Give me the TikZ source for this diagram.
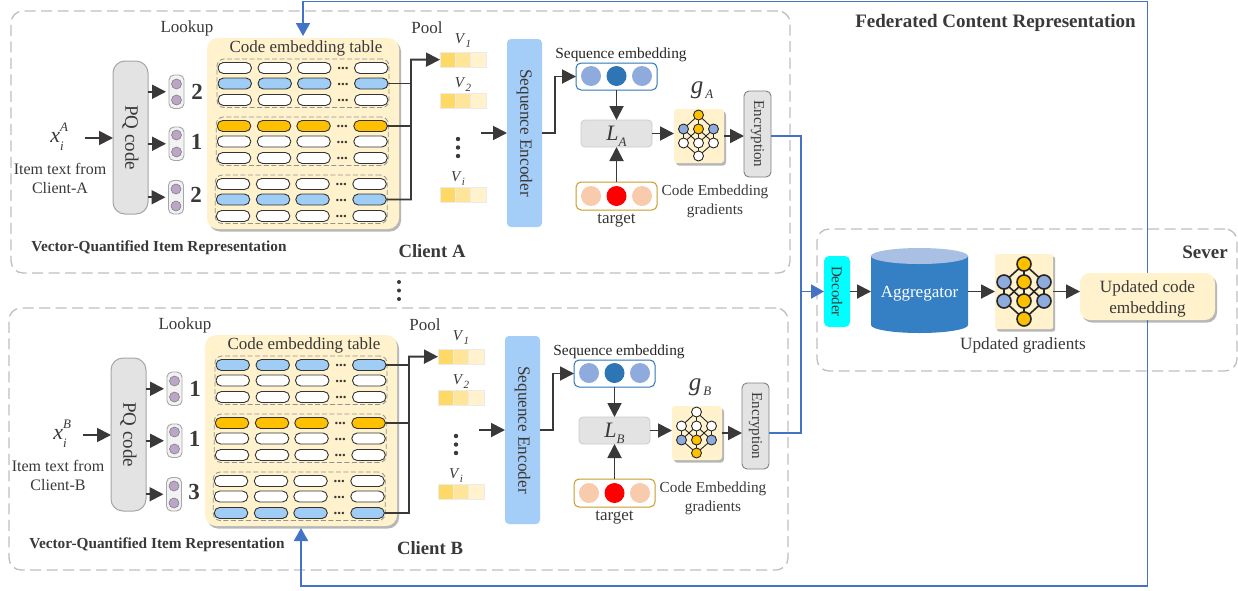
\documentclass[tikz,border=0pt]{standalone}
\usepackage{fontspec}
\setmainfont{Liberation Serif}
\usetikzlibrary{arrows.meta,shadows,calc}
\definecolor{txtc}{HTML}{3B3838}
\definecolor{linec}{HTML}{3B3838}
\definecolor{dashc}{HTML}{BFBFBF}
\definecolor{greyf}{HTML}{E3E3E3}
\definecolor{greyl}{HTML}{A6A6A6}
\definecolor{cream}{HTML}{FFF2CC}
\definecolor{pillblue}{HTML}{9FCDF5}
\definecolor{pillorange}{HTML}{FFC000}
\definecolor{seqblue}{HTML}{A4CEF7}
\definecolor{bluel}{HTML}{4472C4}
\definecolor{nnb}{HTML}{8FAADC}
\definecolor{nno}{HTML}{FFC000}
\definecolor{deepb}{HTML}{2E75B6}
\definecolor{cylb}{HTML}{3580C5}
\definecolor{cylt}{HTML}{A9BFE3}
\definecolor{peach}{HTML}{F8CBAD}
\definecolor{goldl}{HTML}{C89B2A}
\definecolor{lilac}{HTML}{BBA6C8}
\definecolor{vone}{HTML}{FFD966}
\definecolor{vtwo}{HTML}{FFE599}
\definecolor{cyanf}{HTML}{00FFFF}
\newcommand\fs[1]{\fontsize{#1}{#1}\selectfont}
\newcommand\fsl[2]{\fontsize{#1}{#2}\selectfont}
\newcommand\isub[3]{\textit{#1}\raisebox{-.28em}{\fs{#3}\textit{#2}}}
\newcommand\subsup[3]{\textit{#1}\rlap{\raisebox{.5em}{\fs{13}\textit{#3}}}\raisebox{-.35em}{\fs{13}\textit{#2}}\hspace{4pt}}
\tikzset{
  boxbase/.style={inner sep=0pt,outer sep=0pt,rectangle,align=center},
  region/.style={draw=dashc,line width=1.3pt,dash pattern=on 11pt off 5.5pt,rounded corners=12pt},
  groupbox/.style={draw=gray!85,line width=.8pt,dash pattern=on 5pt off 2.5pt,rounded corners=7pt},
  softshadow/.style={drop shadow={shadow xshift=2pt,shadow yshift=-2.5pt,opacity=.4,fill=black!70}},
  flow/.style={draw=linec,line width=1.9pt,-{Triangle[length=14pt,width=14pt]}},
  plain/.style={draw=linec,line width=1.6pt},
  blueline/.style={draw=bluel,line width=1.9pt},
  bluearrow/.style={blueline,-{Triangle[length=13pt,width=14pt]}},
  pill/.style={draw=black!80,line width=.9pt,rounded corners=5.4pt},
  dot/.style={circle,inner sep=0pt,outer sep=0pt,minimum size=20pt},
  tiny/.style={circle,inner sep=0pt,outer sep=0pt,minimum size=10pt,draw=gray,line width=.6pt,fill=lilac},
}
\newcommand\bx[7]{%
  \pgfmathsetmacro\cxv{((#3)+(#5))/2}\pgfmathsetmacro\cyv{((#4)+(#6))/2}%
  \pgfmathsetmacro\wv{(#5)-(#3)}\pgfmathsetmacro\hv{(#6)-(#4)}%
  \node[boxbase,#2,minimum width=\wv pt,minimum height=\hv pt] (#1) at (\cxv,\cyv) {#7};}
% neural net: prefix cx dx y1 y2 y3 y4 style colours
\newcommand\nnetdraw[6]{%
  \node[nncur,fill=#1] (\nnp-n1) at (\nncx,\nnya) {};
  \node[nncur,fill=#2] (\nnp-n2) at ({\nncx-\nndx},\nnyb) {};
  \node[nncur,fill=#3] (\nnp-n3) at (\nncx,\nnyb) {};
  \node[nncur,fill=#2] (\nnp-n4) at ({\nncx+\nndx},\nnyb) {};
  \node[nncur,fill=#4] (\nnp-n5) at ({\nncx-\nndx},\nnyc) {};
  \node[nncur,fill=#5] (\nnp-n6) at (\nncx,\nnyc) {};
  \node[nncur,fill=#4] (\nnp-n7) at ({\nncx+\nndx},\nnyc) {};
  \node[nncur,fill=#6] (\nnp-n8) at (\nncx,\nnyd) {};
  \foreach \ea/\eb in {1/2,1/3,1/4,2/5,2/6,3/5,3/6,3/7,4/6,4/7,5/8,6/8,7/8}
    \draw[nnedge] (\nnp-n\ea) -- (\nnp-n\eb);}
\newcommand\nnet[9]{%
  \def\nnp{#1}\def\nncx{#2}\def\nndx{#3}\def\nnya{#4}\def\nnyb{#5}\def\nnyc{#6}\def\nnyd{#7}%
  \tikzset{nncur/.style={circle,inner sep=0pt,outer sep=0pt,draw=black!85,#8},nnedge/.style={draw=black!85,#8}}%
  \nnetdraw#9}
% vector cells
\newcommand\vcells[2]{%
  \bx{#1a}{fill=vone,draw=black!8}{440}{#2}{455.3}{#2+15.3}{}
  \bx{#1b}{fill=vtwo,draw=black!8}{455.3}{#2}{470.6}{#2+15.3}{}
  \bx{#1c}{fill=cream,draw=black!8}{470.6}{#2}{486}{#2+15.3}{}}
% client: prefix letter dx dy rowa rowc xix encdy colours
\newcommand\clientblock[9]{%
\begin{scope}[shift={(#3,#4)}]
  \bx{#1-box}{region}{11}{11}{790}{273}{}
  \node (#1-lk) at (187,28) {\fs{17}Lookup};
  \node (#1-pl) at (427,28) {\fs{17}Pool};
  \bx{#1-tbl}{fill=cream,rounded corners=11pt,softshadow}{207}{38}{399}{229}{}
  \node (#1-tt) at (306,48.5) {\fs{17}Code embedding table};
  \foreach \g/\gx/\gy/\act/\cc in {1/0/68/#5/pillblue,2/-0.7/126/1/pillorange,3/-1.7/184/#6/pillblue}{
    \bx{#1-gb\g}{groupbox}{217+\gx}{\gy-9}{389+\gx}{\gy+39.5}{}
    \foreach \r/\ry in {1/0,2/15.5,3/32}{
      \ifnum\r=\act\relax\def\pf{\cc}\else\def\pf{white}\fi
      \foreach \c/\xa/\xb in {1/218/251.5,2/258/291.5,3/297.5/331,4/354.5/388}{
        \bx{#1-p\g\r\c}{pill,fill=\pf}{\xa+\gx}{\gy+\ry-5.5}{\xb+\gx}{\gy+\ry+5.5}{}
      }
      \node[inner sep=0pt] (#1-d\g\r) at ({343+\gx},{\gy+\ry+.5}) {\bfseries\fs{15}...};
    }
  }
  \bx{#1-pq}{fill=greyf,draw=greyl,line width=1pt,rounded corners=12pt,label={[rotate=-90]center:\fs{19}PQ code}}{113}{61}{148}{214}{}
  \foreach \s/\ya/\yb/\ca/\cb/\n/\nx/\ny/\sx in {1/75/108.5/84/100/#5/197/92/0,2/127/160.5/135/152/1/196.5/142/0,3/180.5/214/189/206/#6/196/195/-.5}{
    \bx{#1-sp\s}{draw=greyl,fill=black!5,line width=.9pt,rounded corners=5pt}{169+\sx}{\ya}{184+\sx}{\yb}{}
    \node[tiny] (#1-sa\s) at (176.5+\sx,\ca) {};
    \node[tiny] (#1-sb\s) at (176.5+\sx,\cb) {};
    \node[inner sep=0pt] (#1-num\s) at (\nx,\ny) {\bfseries\fs{23}\n};
    \draw[flow,shorten >=3pt] (#1-pq.east |- #1-sp\s.west) -- (#1-sp\s.west);
  }
  \node (#1-xi) at (#7,137) {\fs{22}\subsup{x}{i}{#2}};
  \coordinate (#1-xs) at (85,138);
  \draw[flow] (#1-xs) -- (#1-pq.west |- #1-xs);
  \node[align=center,inner sep=0pt,font=\fsl{16}{19}] (#1-it) at (60,178.5) {Item text from\\Client-#2};
  \node (#1-vq) at (159,248) {\bfseries\fs{15.3}Vector-Quantified Item Representation};
  \node (#1-cl) at (432,251) {\bfseries\fs{18.7}Client #2};
  \vcells{#1-va}{52}
  \vcells{#1-vb}{93}
  \vcells{#1-vc}{187}
  \node[inner sep=0pt] (#1-la1) at (463,40.5) {\fs{15}\isub{V}{1}{11}};
  \node[inner sep=0pt] (#1-la2) at (463,84.5) {\fs{15}\isub{V}{2}{11}};
  \node[inner sep=0pt] (#1-la3) at (458,178.5) {\fs{15}\isub{V}{i}{11}};
  \foreach \i/\yy in {1/139,2/147.5,3/156}
    \node[circle,fill=linec,inner sep=0pt,minimum size=4.4pt] (#1-vd\i) at (458,\yy) {};
  \coordinate (#1-bus) at (411,59.6);
  \draw[plain] (#1-p1#54.east) -- (#1-p1#54.east -| #1-bus);
  \draw[plain] (#1-p214.east) -- (#1-p214.east -| #1-bus);
  \draw[flow] (#1-p3#64.east) -| (#1-bus) -- (#1-vaa.west);
  \bx{#1-sq}{fill=seqblue,rounded corners=4pt,label={[rotate=-90]center:\fs{17.2}Sequence Encoder}}{507}{39}{542}{227}{}
  \coordinate (#1-sin) at (481,133);
  \draw[flow] (#1-sin) -- (#1-sq.west |- #1-sin);
  \node (#1-st) at (621,54.5) {\textcolor{black!85}{\fs{15.4}Sequence embedding}};
  \bx{#1-se}{draw=deepb,fill=white,line width=1pt,rounded corners=5pt}{576}{63}{657}{90}{}
  \node[dot,fill=nnb] (#1-e1) at (591,76) {};
  \node[dot,fill=deepb] (#1-e2) at (616.5,76) {};
  \node[dot,fill=nnb] (#1-e3) at (642,76) {};
  \coordinate (#1-elb) at (555,100);
  \draw[flow] (#1-sq.east) -| (#1-elb) |- (#1-se.west);
  \bx{#1-la}{fill=greyf,draw=black!20,line width=.8pt,rounded corners=4pt}{581}{120}{652}{147}{}
  \node[inner sep=0pt] (#1-lt) at (616.5,136) {\fs{22}\isub{L}{#2}{13}};
  \bx{#1-tg}{draw=goldl,fill=white,line width=1pt,rounded corners=5pt}{576}{182}{657}{210}{}
  \node[dot,fill=peach] (#1-t1) at (591,196) {};
  \node[dot,fill=red] (#1-t2) at (616.5,196) {};
  \node[dot,fill=peach] (#1-t3) at (642,196) {};
  \node (#1-tl) at (616.5,220.5) {\fs{17}target};
  \draw[flow] (#1-se.south) -- (#1-la.north);
  \draw[flow] (#1-tg.north) -- (#1-la.south);
  \bx{#1-nn}{fill=cream,rounded corners=3pt,softshadow}{674}{109}{724}{163}{}
  \nnet{#1}{698.5}{15}{115}{129}{143}{156}{minimum size=10pt,line width=.9pt}{#9}
  \node (#1-g) at (702,90) {\fs{25}\textit{g}\raisebox{-.2em}{\hspace{2pt}\fs{13}\textit{#2}}};
  \draw[flow] (#1-la.east) -- (#1-la.east -| #1-nn.west);
  \bx{#1-enc}{fill=greyf,draw=black!50,line width=.9pt,rounded corners=5pt,label={[rotate=-90]center:\fs{15}Encryption}}{744}{91+#8}{771}{177+#8}{}
  \draw[flow] (#1-nn.east) -- (#1-nn.east -| #1-enc.west);
  \node[align=center,inner sep=0pt,font=\fsl{15.3}{19}] (#1-ce) at (715,201.5) {Code Embedding\\gradients};
\end{scope}}

\begin{document}
\begin{tikzpicture}[x=1pt,y=-1pt,every node/.append style={text=txtc}]
\useasboundingbox (0,0) rectangle (1238,590);
\fill[white] (0,0) rectangle (1238,590);
% server
\bx{srv}{region}{817}{229}{1237}{371}{}
\clientblock{A}{A}{0}{0}{2}{2}{57}{0}{{nno}{nnb}{nno}{white}{white}{white}}
\clientblock{B}{B}{-2}{297}{1}{3}{62}{-5}{{white}{white}{white}{nnb}{nno}{nno}}
\foreach \i/\yy in {1/282,2/290.5,3/299}
  \node[circle,fill=linec,inner sep=0pt,minimum size=4pt] (gap\i) at (399,\yy) {};
\node (fed) at (995.5,23) {\bfseries\fs{19}Federated Content Representation};
\node (sev) at (1205,252) {\bfseries\fs{19}Sever};
\bx{dec}{fill=cyanf,rounded corners=5pt,label={[rotate=-90]center:\fs{15}Decoder}}{824}{256}{850}{327}{}
% cylinder
\fill[cylb] (871,256) -- (871,325) arc[start angle=180,end angle=360,x radius=48.5pt,y radius=8pt] -- (968,256) -- cycle;
\fill[cylt] (919.5,256) ellipse[x radius=48.5pt,y radius=8pt];
\bx{agg}{}{871}{248}{968}{333}{}
\node[text=white] (aggt) at (919.5,294) {\fs{17}Aggregator};
\bx{unn}{fill=cream,softshadow,rounded corners=2pt}{995}{254}{1053}{329}{}
\nnet{U}{1024}{20}{264}{282}{301}{319}{minimum size=14pt,line width=1.6pt}{{nno}{nnb}{nno}{nnb}{nno}{nno}}
\node (ug) at (1023,345) {\fs{17.2}Updated gradients};
% feedback lines (behind the updated box)
\coordinate (tl) at (303,1.5);
\coordinate (bl) at (301,586);
\bx{upd}{fill=none}{1080}{273}{1215}{320}{}
\draw[bluearrow,shorten >=2pt] (upd.north) |- (tl) -- (A-tbl.north);
\draw[bluearrow,shorten >=2pt] (upd.south) |- (bl) -- (B-tbl.south);
\bx{updb}{fill=cream,rounded corners=10pt,softshadow}{1080}{273}{1215}{320}{}
\node[align=center,inner sep=0pt,font=\fsl{17.2}{21}] (updt) at (1147.5,299) {Updated code\\embedding};
\coordinate (bus) at (801,291.5);
\draw[blueline] (B-enc.east |- B-nn.east) -| (bus);
\draw[bluearrow] (A-enc.east |- A-nn.east) -| (bus) -- (dec.west);
\draw[flow] (dec.east) -- (agg.west |- dec.east);
\draw[flow] (agg.east |- dec.east) -- (unn.west |- dec.east);
\draw[flow] (unn.east) -- (updb.west |- unn.east);
\end{tikzpicture}
\end{document}
